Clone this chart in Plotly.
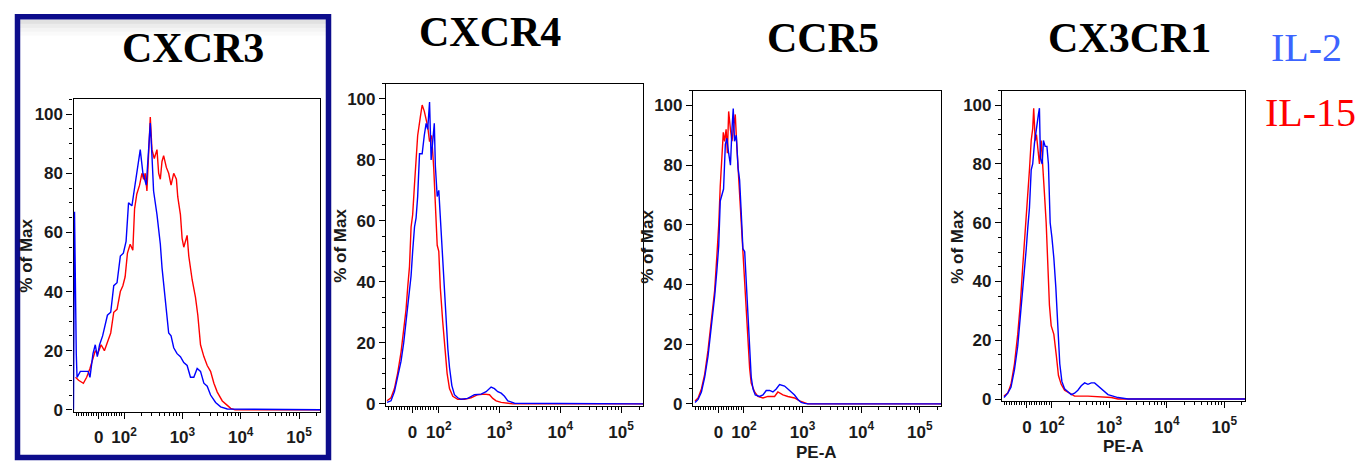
import numpy as np
import plotly.graph_objects as go

W, H = 1367, 463

# ---------------- data (fluorescence intensity, % of max) ----------------
markers = ["CXCR3", "CXCR4", "CCR5", "CX3CR1"]
series_names = ["IL-2", "IL-15"]
x_tick_values = [0, 100, 1000, 10000, 100000]
x_tick_labels = ["0", "10<sup>2</sup>", "10<sup>3</sup>", "10<sup>4</sup>", "10<sup>5</sup>"]
y_tick_values = [0, 20, 40, 60, 80, 100]

cxcr3_il2_x = [-100, -96, -89, -86, -73, -42, -35, -23, -14, -6, 3, 15, 34, 47, 59, 72, 85, 97, 108, 119, 136,
               155, 177, 189, 210, 240, 263, 281, 300, 320, 366, 418, 447, 490, 530, 581, 638, 709, 809, 924,
               1055, 1204, 1374, 1568, 1790, 2043, 2332, 2662, 3039, 3707, 4523, 5890, 262144]
cxcr3_il2_y = [0, 67, 19, 11, 13, 13, 11, 19, 22, 18, 22, 25, 32, 33, 42, 43, 52, 53, 57, 70, 69,
               76, 84, 88, 80, 76, 88, 97, 86, 74, 66, 56, 48, 40, 32, 26, 25, 21, 19, 18,
               16, 15, 11, 11, 14, 13, 9, 8, 5, 2.5, 1, 0.3, 0]
cxcr3_il15_x = [-92, -80, -61, -48, -35, -23, -14, -4, 9, 22, 34, 47, 59, 72, 85, 95, 104, 114, 127, 141,
                151, 165, 184, 202, 216, 230, 246, 263, 281, 300, 329, 366, 391, 418, 446, 476, 530, 581, 638, 709,
                788, 832, 924, 987, 1055, 1204, 1286, 1468, 1675, 1837, 2043, 2332, 2662, 3039, 3467, 3960, 4830,
                5890, 6725, 8000, 262144]
cxcr3_il15_y = [11, 10, 9, 11, 14, 17, 20, 19, 22, 20, 23, 26, 33, 34, 40, 42, 45, 53, 56, 54,
                68, 73, 76, 80, 78, 80, 74, 87, 99, 88, 85, 88, 80, 78, 84, 86, 82, 80, 76, 80,
                78, 72, 66, 58, 55, 59, 52, 44, 38, 32, 22, 18, 15, 13, 9, 6, 3,
                1.5, 0.5, 0, 0]

cxcr4_il2_x = [-96, -81, -68, -56, -43, -33, -24, -18, -11, -5, 1, 8, 14, 20, 27, 37, 45, 52, 58, 65,
               71, 77, 83, 87, 94, 100, 106, 113, 124, 132, 141, 150, 164, 181, 205, 233, 300, 386, 498, 601,
               726, 824, 935, 1062, 1205, 1368, 1552, 1762, 262144]
cxcr4_il2_y = [0.5, 1, 4, 9, 14, 20, 27, 32, 38, 42, 50, 58, 61, 68, 82, 82, 88, 92, 90, 99,
               80, 85, 92, 78, 68, 70, 61, 50, 40, 28, 18, 12, 6, 3, 2, 1.5, 1.8, 3, 3.2, 4,
               5.5, 5, 4, 3.5, 2.5, 1, 0.5, 0.2, 0]
cxcr4_il15_x = [-96, -81, -68, -56, -43, -33, -24, -18, -11, -5, 1, 8, 14, 20, 30, 37, 45, 52, 58, 65,
                73, 81, 86, 94, 100, 106, 116, 127, 137, 150, 170, 205, 264, 340, 438, 565, 683, 774, 879, 1062,
                1368, 1652, 262144]
cxcr4_il15_y = [1, 2, 5, 10, 17, 24, 31, 38, 45, 58, 62, 72, 80, 88, 94, 98, 96, 93, 91, 86,
                88, 77, 66, 52, 50, 38, 27, 17, 10, 5, 2.5, 1.5, 1.5, 2, 3, 3.2, 3, 1.8, 1, 0.5,
                0.3, 0, 0]

ccr5_il2_x = [-92, -80, -67, -54, -41, -28, -15, -6, 1, 7, 14, 20, 27, 33, 40, 47, 53, 58, 63, 70,
              77, 83, 90, 96, 103, 110, 117, 125, 133, 143, 156, 185, 211, 240, 274, 312, 355, 405, 493, 600,
              729, 832, 947, 1079, 1230, 262144]
ccr5_il2_y = [0.5, 1.5, 4, 9, 16, 25, 36, 45, 53, 68, 70, 72, 87, 89, 84, 80, 92, 99, 88, 90,
              79, 75, 63, 52, 51, 40, 27, 15, 9, 5, 3, 2.5, 3, 4.5, 4.5, 4, 5, 6.5, 6, 4.5,
              3, 1.5, 0.5, 0.2, 0, 0]
ccr5_il15_x = [-92, -80, -67, -54, -41, -28, -15, -6, 1, 7, 14, 19, 24, 30, 35, 40, 47, 53, 60, 66,
               71, 77, 83, 90, 96, 103, 110, 117, 125, 133, 152, 173, 211, 256, 333, 379, 462, 561, 729, 887,
               1079, 1230, 262144]
ccr5_il15_y = [1, 2, 5, 10, 18, 27, 38, 50, 60, 73, 86, 91, 88, 92, 84, 98, 92, 88, 93, 97,
               88, 79, 70, 60, 50, 42, 32, 20, 12, 7, 4, 2.5, 2, 2.5, 2.5, 4, 3, 2.5, 2, 1,
               0.5, 0, 0]

cx3cr1_il2_x = [-92, -77, -64, -50, -37, -26, -17, -10, -3, 3, 10, 17, 23, 30, 37, 46, 50, 54, 61, 66,
                73, 80, 86, 93, 100, 108, 117, 127, 137, 149, 166, 190, 217, 248, 283, 324, 371, 424, 484, 553,
                632, 723, 826, 946, 1156, 1413, 1845, 2113, 262144]
cx3cr1_il2_y = [0.5, 2, 4, 10, 18, 28, 38, 45, 51, 58, 65, 78, 80, 87, 92, 97, 99, 82, 80, 88,
                86, 86, 80, 60, 55, 48, 38, 22, 12, 6, 3.5, 2.5, 1.5, 2, 3, 4.5, 5.5, 5, 5.5, 5.5,
                4.5, 3.5, 2.5, 1.5, 1, 0.5, 0.2, 0, 0]
cx3cr1_il15_x = [-92, -77, -64, -50, -37, -26, -17, -10, -3, 3, 10, 17, 23, 27, 33, 38, 43, 50, 57, 64,
                 70, 77, 84, 90, 97, 108, 119, 130, 145, 166, 203, 248, 424, 723, 1081, 1413, 262144]
cx3cr1_il15_y = [1, 2, 5, 12, 22, 33, 45, 53, 60, 67, 78, 88, 92, 99, 88, 90, 85, 80, 88, 80,
                 70, 60, 45, 32, 25, 22, 15, 8, 5, 3, 2, 1, 1, 0.8, 0.5, 0, 0]

il2_x = [cxcr3_il2_x, cxcr4_il2_x, ccr5_il2_x, cx3cr1_il2_x]
il2_y = [cxcr3_il2_y, cxcr4_il2_y, ccr5_il2_y, cx3cr1_il2_y]
il15_x = [cxcr3_il15_x, cxcr4_il15_x, ccr5_il15_x, cx3cr1_il15_x]
il15_y = [cxcr3_il15_y, cxcr4_il15_y, ccr5_il15_y, cx3cr1_il15_y]


# ---------------- biexponential-like display transform ----------------
def biex(v):
    v = np.asarray(v, dtype=float)
    return np.where(v >= 100, np.log10(np.maximum(v, 100)), 2 + (v - 100) / (100 * np.log(10)))


minor_vals = [v for v in range(-90, 100, 10) if v != 0]
for n in (2, 3, 4):
    minor_vals += [k * 10 ** n for k in range(2, 10)]
minor_vals += [200000]

X_RANGE = [float(biex(-100)), 5.36]
Y_RANGE = [-0.7, 105]

# panel boxes in pixels (left, right, top, bottom)
boxes = [(65.5, 312, 93, 411), (378, 635, 77, 405), (685, 933, 84, 405), (994, 1237, 84, 400)]
title_pos = [(185, 41), (482, 24), (815, 31), (1121, 31)]
ylab_pos = [(19, 252), (333, 242), (640, 243), (950, 243)]
xlab_pos = [None, None, (808, 452), (1115, 446)]


def px(x):
    return x / W


def py(y):
    return 1 - y / H


BLUE = "#0000ff"
RED = "#ff0000"
TICKFONT = dict(family="Liberation Sans, Arial", size=17, color="#1a1a1a", weight="bold")

fig = go.Figure()
layout = dict(width=W, height=H, margin=dict(l=0, r=0, t=0, b=0), paper_bgcolor="white",
              plot_bgcolor="white", showlegend=False)
annotations = []
shapes = []

for i in range(4):
    k = "" if i == 0 else str(i + 1)
    fig.add_trace(go.Scatter(x=biex(il15_x[i]), y=il15_y[i], mode="lines", name=series_names[1],
                             line=dict(color=RED, width=1.4), xaxis="x" + k, yaxis="y" + k))
    fig.add_trace(go.Scatter(x=biex(il2_x[i]), y=il2_y[i], mode="lines", name=series_names[0],
                             line=dict(color=BLUE, width=1.4), xaxis="x" + k, yaxis="y" + k))
    l, r, t, b = boxes[i]
    layout["xaxis" + k] = dict(domain=[px(l), px(r)], anchor="y" + k, range=X_RANGE,
                               tickmode="array", tickvals=biex(x_tick_values).tolist(), ticktext=x_tick_labels,
                               ticks="outside", ticklen=6, tickwidth=1.2, tickcolor="black",
                               minor=dict(tickmode="array", tickvals=biex(minor_vals).tolist(), ticks="outside",
                                          ticklen=3, tickwidth=1, tickcolor="black"),
                               showline=True, linecolor="black", linewidth=1.2, mirror=True,
                               showgrid=False, zeroline=False, tickfont=TICKFONT, ticklabelstandoff=4,
                               layer="below traces")
    layout["yaxis" + k] = dict(domain=[py(b), py(t)], anchor="x" + k, range=Y_RANGE,
                               tickmode="array", tickvals=y_tick_values, ticks="outside", ticklen=6,
                               tickwidth=1.2, tickcolor="black",
                               minor=dict(dtick=5, ticks="outside", ticklen=3, tickwidth=1, tickcolor="black"),
                               showline=True, linecolor="black", linewidth=1.2, mirror=True,
                               showgrid=False, zeroline=False, tickfont=TICKFONT, layer="below traces")
    tx, ty = title_pos[i]
    annotations.append(dict(text="<b>" + markers[i] + "</b>", x=px(tx), y=py(ty), xref="paper", yref="paper",
                            xanchor="center", yanchor="middle", showarrow=False,
                            font=dict(family="Liberation Serif, Times New Roman", size=42, color="black")))
    lx, ly = ylab_pos[i]
    annotations.append(dict(text="% of Max", x=px(lx), y=py(ly), xref="paper", yref="paper", textangle=-90,
                            xanchor="center", yanchor="middle", showarrow=False,
                            font=dict(family="Liberation Sans, Arial", size=17, color="#1a1a1a",
                                      weight="bold")))
    if xlab_pos[i] is not None:
        ex, ey = xlab_pos[i]
        annotations.append(dict(text="PE-A", x=px(ex), y=py(ey), xref="paper", yref="paper",
                                xanchor="center", yanchor="middle", showarrow=False,
                                font=dict(family="Liberation Sans, Arial", size=17, color="#1a1a1a",
                                          weight="bold")))

# legend text
annotations.append(dict(text="IL-2", x=px(1298), y=py(40), xref="paper", yref="paper", xanchor="center",
                        yanchor="middle", showarrow=False,
                        font=dict(family="Liberation Serif, Times New Roman", size=40, color="#3c64ff")))
annotations.append(dict(text="IL-15", x=px(1302), y=py(106), xref="paper", yref="paper", xanchor="center",
                        yanchor="middle", showarrow=False,
                        font=dict(family="Liberation Serif, Times New Roman", size=40, color="#ff0000")))

# highlight frame around first panel, with faint shadow under top edge
for j, op in enumerate([0.22, 0.14, 0.08, 0.04]):
    shapes.append(dict(type="rect", xref="paper", yref="paper", x0=px(12), x1=px(318),
                       y0=py(12 + 4 * (j + 1)), y1=py(12 + 4 * j), line=dict(width=0),
                       fillcolor="rgba(120,120,120,%.2f)" % op, layer="below"))
shapes.append(dict(type="rect", xref="paper", yref="paper", x0=px(9.5), x1=px(320.5), y0=py(457.5), y1=py(9),
                   line=dict(color="#0d0d8c", width=5.5), fillcolor="rgba(0,0,0,0)"))

layout["annotations"] = annotations
layout["shapes"] = shapes
fig.update_layout(**layout)
fig.write_html("out.html")
